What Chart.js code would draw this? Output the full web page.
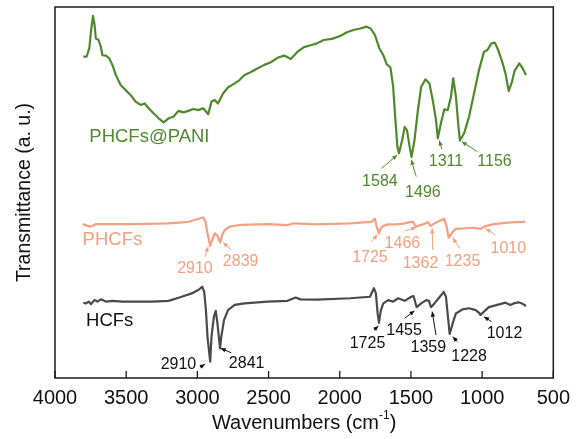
<!DOCTYPE html>
<html><head><meta charset="utf-8">
<script src="https://cdn.jsdelivr.net/npm/chart.js@4/dist/chart.umd.min.js"></script>
<style>html,body{margin:0;padding:0;background:#fff;}#wrap{width:578px;height:439px;}</style>
</head><body><div id="wrap"><canvas id="c" width="578" height="439"></canvas></div>
<script>
// ---- data ----
const xTicks = [4000, 3500, 3000, 2500, 2000, 1500, 1000, 500];
const seriesNames = ['PHCFs@PANI', 'PHCFs', 'HCFs'];

const paniWn = [3801,3778,3759,3745,3733,3722,3713,3694,3678,3667,3643,3620,3597,3573,3539,3504,3469,3434,3399,3370,3342,3307,3272,3237,3202,3168,3133,3098,3063,3028,2994,2959,2924,2901,2878,2855,2820,2785,2738,2704,2669,2623,2576,2530,2484,2437,2390,2344,2298,2251,2205,2159,2112,2054,1997,1950,1903,1857,1811,1783,1753,1722,1694,1671,1644,1625,1609,1595,1584,1562,1544,1528,1509,1496,1475,1451,1428,1398,1370,1347,1324,1311,1290,1266,1242,1219,1203,1184,1166,1156,1127,1092,1057,1022,987,964,934,911,887,859,836,813,790,772,739,716,692];
const paniT = [86.6,86.6,88.9,94.2,97.6,95.1,91.5,91.1,89.3,87.0,86.9,86.2,84.4,81.7,79.0,77.6,76.3,74.5,73.6,74.0,72.7,71.3,70.0,68.9,70.0,70.4,72.0,71.6,72.0,72.5,72.2,72.7,71.1,74.5,74.9,74.0,76.7,78.3,79.4,80.3,81.7,82.5,83.5,84.4,85.1,86.3,86.9,86.0,87.9,89.2,89.7,90.2,91.1,91.4,92.2,93.2,93.8,94.2,94.7,94.2,92.4,88.9,87.0,84.6,83.7,78.5,69.5,62.3,60.6,64.1,67.7,66.8,62.3,59.6,64.1,72.2,78.5,80.5,79.4,74.9,69.5,64.6,68.6,72.4,72.2,75.8,80.8,75.8,67.7,64.0,65.9,70.4,76.7,83.0,87.9,88.4,90.2,90.4,88.4,85.2,82.1,77.3,79.9,82.8,84.8,83.5,81.7];

const phcfWn = [3806,3771,3747,3713,3620,3434,3202,3063,2982,2959,2943,2929,2910,2896,2878,2862,2839,2827,2808,2773,2692,2507,2367,2321,2159,1927,1776,1753,1741,1725,1713,1694,1660,1602,1555,1509,1486,1466,1451,1416,1381,1362,1335,1301,1266,1249,1235,1207,1184,1138,1068,1010,987,929,836,767,697];
const phcfT = [41.5,41.0,40.8,41.5,41.5,41.5,41.7,42.1,43.0,43.3,42.1,39.0,35.6,37.2,39.0,38.5,36.5,38.5,39.9,40.8,41.3,41.5,41.2,41.7,41.4,41.7,42.1,42.9,40.8,39.0,40.3,41.0,41.4,41.4,41.6,42.0,42.1,40.8,41.0,41.4,42.0,41.0,41.7,42.3,42.9,40.8,37.8,39.4,40.2,40.3,40.5,40.2,40.8,41.4,41.8,42.0,42.1];

const hcfWn = [3801,3782,3764,3747,3724,3701,3678,3643,3597,3527,3434,3319,3202,3110,3040,2994,2966,2952,2940,2929,2910,2901,2884,2871,2859,2841,2832,2813,2785,2738,2669,2507,2367,2310,2275,2159,1927,1788,1760,1746,1734,1725,1711,1694,1660,1625,1590,1544,1498,1482,1460,1451,1428,1393,1374,1359,1335,1301,1270,1254,1240,1228,1207,1184,1138,1092,1045,1017,1012,987,953,894,836,801,779,744,720,692];
const hcfT = [20.3,20.1,20.6,19.9,21.0,20.6,21.2,20.6,20.8,20.6,20.6,20.6,20.8,21.9,22.8,23.7,24.6,23.3,18.3,11.1,4.4,11.1,16.5,18.1,14.7,8.0,11.1,15.6,18.3,19.7,20.1,20.6,20.8,21.7,21.2,21.1,21.5,21.9,24.2,22.8,17.4,14.9,18.3,20.1,21.0,20.6,21.5,20.8,21.9,22.1,19.1,19.4,20.1,21.0,20.8,19.1,20.1,21.7,23.2,21.9,16.5,11.9,14.7,17.4,18.5,18.8,18.3,17.4,17.0,17.9,19.1,19.7,20.3,19.7,20.1,20.4,20.1,19.4];

const paniPeaks = ['1584', '1496', '1311', '1156'];
const phcfPeaks = ['2910', '2839', '1725', '1466', '1362', '1235', '1010'];
const hcfPeaks  = ['2910', '2841', '1725', '1455', '1359', '1228', '1012'];

// ---- layout (label placement in data units: [wavenumber, transmittance]) ----
const paniPlace = [
  {at:[1718,52.9], from:[1706,56.5], to:[1597,60.1]},
  {at:[1416,50.0], from:[1463,54.3], to:[1498,58.8]},
  {at:[1254,58.3], from:[1282,61.6], to:[1301,64.0]},
  {at:[913,58.3],  from:[1033,61.0], to:[1143,63.7]}
];
const phcfPlace = [
  {at:[3017,29.4], from:[2947,32.7], to:[2924,35.4]},
  {at:[2696,31.3], from:[2762,34.5], to:[2820,36.5]},
  {at:[1788,32.5], from:[1776,36.7], to:[1736,38.7]},
  {at:[1560,36.1], from:[1544,39.6], to:[1463,40.6]},
  {at:[1433,30.8], from:[1347,34.5], to:[1351,40.3]},
  {at:[1138,31.3], from:[1157,35.0], to:[1207,37.8]},
  {at:[816,34.8],  from:[906,38.5],  to:[976,40.3]}
];
const hcfPlace = [
  {at:[3133,3.7],  from:[2982,2.9],  to:[2947,3.7]},
  {at:[2654,4.0],  from:[2762,6.8],  to:[2836,8.0]},
  {at:[1805,9.2],  from:[1760,12.9], to:[1729,14.0]},
  {at:[1548,12.9], from:[1544,16.1], to:[1475,18.1]},
  {at:[1378,8.1],  from:[1324,11.6], to:[1351,17.9]},
  {at:[1092,5.7],  from:[1173,9.8],  to:[1207,11.1]},
  {at:[843,12.1],  from:[934,15.2],  to:[987,16.5]}
];
const namePlace = [[3759,65.0],[3806,37.2],[3782,15.4]];

const GREEN = '#4e8a2c', ORANGE = '#f5a080', GREY = '#4a4a4a', TXT = '#111111';
const FONT = '"Liberation Sans", Arial, sans-serif';

const zip = (a, b) => a.map((v, i) => ({x: v, y: b[i]}));

const overlay = {
  id: 'overlay',
  afterDraw(chart) {
    const {ctx, chartArea: a, scales: {x, y}} = chart;
    const P = p => [x.getPixelForValue(p[0]), y.getPixelForValue(p[1])];
    ctx.save();
    // frame
    ctx.strokeStyle = '#1a1a1a'; ctx.lineWidth = 1.5;
    ctx.strokeRect(a.left, a.top, a.right - a.left, a.bottom - a.top);
    // inward ticks
    ctx.lineWidth = 1.3;
    xTicks.forEach(v => {
      const px = x.getPixelForValue(v);
      ctx.beginPath(); ctx.moveTo(px, a.bottom); ctx.lineTo(px, a.bottom - 7); ctx.stroke();
    });
    // peak labels + arrows
    const groups = [[paniPeaks, paniPlace, GREEN], [phcfPeaks, phcfPlace, ORANGE], [hcfPeaks, hcfPlace, TXT]];
    groups.forEach(([labels, place, col]) => {
      labels.forEach((t, i) => {
        const pl = place[i];
        const [tx, ty] = P(pl.at);
        ctx.fillStyle = col; ctx.font = '16px ' + FONT;
        ctx.textAlign = 'center'; ctx.textBaseline = 'middle';
        ctx.fillText(t, tx, ty);
        const [x1, y1] = P(pl.from), [x2, y2] = P(pl.to);
        ctx.strokeStyle = col; ctx.fillStyle = col; ctx.lineWidth = 1;
        ctx.beginPath(); ctx.moveTo(x1, y1); ctx.lineTo(x2, y2); ctx.stroke();
        const ang = Math.atan2(y2 - y1, x2 - x1), L = 5, W = 2.2;
        ctx.beginPath();
        ctx.moveTo(x2, y2);
        ctx.lineTo(x2 - L * Math.cos(ang) + W * Math.sin(ang), y2 - L * Math.sin(ang) - W * Math.cos(ang));
        ctx.lineTo(x2 - L * Math.cos(ang) - W * Math.sin(ang), y2 - L * Math.sin(ang) + W * Math.cos(ang));
        ctx.closePath(); ctx.fill();
      });
    });
    // series names
    const ncol = [GREEN, ORANGE, TXT];
    seriesNames.forEach((n, i) => {
      const [tx, ty] = P(namePlace[i]);
      ctx.fillStyle = ncol[i]; ctx.font = '18.5px ' + FONT;
      ctx.textAlign = 'left'; ctx.textBaseline = 'middle';
      ctx.fillText(n, tx, ty);
    });
    // axis titles
    ctx.fillStyle = TXT;
    ctx.font = '20px ' + FONT;
    const main = 'Wavenumbers (cm', sup = '-1', close = ')';
    const wMain = ctx.measureText(main).width, wClose = ctx.measureText(close).width;
    ctx.font = '12px ' + FONT;
    const wSup = ctx.measureText(sup).width;
    const total = wMain + wSup + wClose;
    let cx = (a.left + a.right) / 2 - total / 2;
    const ty = 423;
    ctx.textAlign = 'left'; ctx.textBaseline = 'middle';
    ctx.font = '20px ' + FONT; ctx.fillText(main, cx, ty); cx += wMain;
    ctx.font = '12px ' + FONT; ctx.fillText(sup, cx, ty - 7); cx += wSup;
    ctx.font = '20px ' + FONT; ctx.fillText(close, cx, ty);
    ctx.translate(25, (a.top + a.bottom) / 2);
    ctx.rotate(-Math.PI / 2);
    ctx.textAlign = 'center';
    ctx.font = '19.5px ' + FONT;
    ctx.fillText('Transmittance (a. u.)', 0, 0);
    ctx.restore();
  }
};

new Chart(document.getElementById('c'), {
  type: 'line',
  data: {
    datasets: [
      {label: seriesNames[0], data: zip(paniWn, paniT), borderColor: GREEN, borderWidth: 2.2},
      {label: seriesNames[1], data: zip(phcfWn, phcfT), borderColor: ORANGE, borderWidth: 2.2},
      {label: seriesNames[2], data: zip(hcfWn, hcfT), borderColor: GREY, borderWidth: 2.2}
    ]
  },
  options: {
    responsive: false, devicePixelRatio: 1, animation: false,
    layout: {padding: {top: 7, right: 19, left: 0, bottom: 0}},
    elements: {point: {radius: 0}, line: {tension: 0, borderJoinStyle: 'round'}},
    plugins: {legend: {display: false}, tooltip: {enabled: false}},
    scales: {
      x: {
        type: 'linear', reverse: true, min: 500, max: 4000,
        afterBuildTicks: s => { s.ticks = xTicks.map(v => ({value: v})); },
        grid: {display: false, drawTicks: false},
        border: {display: false},
        ticks: {color: TXT, font: {size: 20, family: FONT}, padding: 8, maxRotation: 0, autoSkip: false,
                callback: v => String(v)},
        afterFit: s => { s.height = 61; }
      },
      y: {
        min: 0, max: 100,
        grid: {display: false, drawTicks: false},
        border: {display: false},
        ticks: {display: false},
        afterFit: s => { s.width = 55; }
      }
    }
  },
  plugins: [overlay]
});
</script>
</body></html>
